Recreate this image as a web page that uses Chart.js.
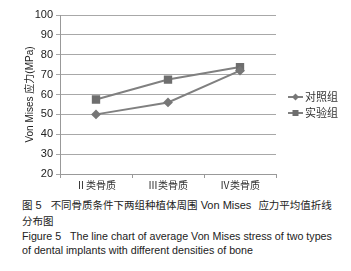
<!DOCTYPE html>
<html>
<head>
<meta charset="utf-8">
<script src="https://cdn.jsdelivr.net/npm/chart.js@4"></script>
<style>
  body { margin: 0; background: #fff; }
  #wrap { position: relative; width: 351px; height: 271px; }
  #c { position: absolute; left: 0; top: 0; }
  .cap { position: absolute; left: 22px; height: 14px; line-height: 14px; color: #222; white-space: pre; }
  .zh { font-family: "Noto Sans CJK SC", "Liberation Sans", sans-serif; font-size: 10.5px; }
  .en { font-family: "Liberation Sans", Arial, sans-serif; font-size: 10.7px; }
  .zh .en { font-size: 11px; }
</style>
</head>
<body>
<div id="wrap">
  <canvas id="c" width="351" height="195"></canvas>
  <div class="cap zh" style="top:198px">图<span class="en" style="margin-left:3px">5</span><span style="margin-left:9px">不同骨质条件下两组种植体周围</span><span class="en" style="margin-left:3px">Von Mises</span><span style="margin-left:7px">应力平均值折线</span></div>
  <div class="cap zh" style="top:214px">分布图</div>
  <div class="cap en" style="top:229px">Figure 5   The line chart of average Von Mises stress of two types</div>
  <div class="cap en" style="top:243px">of dental implants with different densities of bone</div>
</div>
<script>
var categories = ['Ⅱ类骨质', 'Ⅲ类骨质', 'Ⅳ类骨质'];
var controlValues = [50, 56, 72];      // 对照组
var testValues = [57.5, 67.5, 73.8];   // 实验组
var yTicks = [20, 30, 40, 50, 60, 70, 80, 90, 100];

// legend drawn to the right of the plot: line + marker + label
var sideLegend = {
  id: 'sideLegend',
  afterDraw: function (chart) {
    var c = chart.ctx;
    var x0 = chart.chartArea.right + 12;
    var y0 = 97;
    chart.data.datasets.forEach(function (ds, i) {
      var y = y0 + i * 16;
      c.save();
      c.strokeStyle = ds.borderColor;
      c.lineWidth = 2;
      c.beginPath();
      c.moveTo(x0, y);
      c.lineTo(x0 + 15, y);
      c.stroke();
      c.fillStyle = ds.pointBackgroundColor;
      if (ds.pointStyle === 'rect') {
        c.fillRect(x0 + 4.5, y - 3, 6, 6);
      } else {
        c.beginPath();
        c.moveTo(x0 + 7.5, y - 3.5);
        c.lineTo(x0 + 11, y);
        c.lineTo(x0 + 7.5, y + 3.5);
        c.lineTo(x0 + 4, y);
        c.closePath();
        c.fill();
      }
      c.fillStyle = '#333';
      c.font = '11px "Noto Sans CJK SC"';
      c.textBaseline = 'middle';
      c.fillText(ds.label, x0 + 17, y);
      c.restore();
    });
  }
};

var ctx = document.getElementById('c').getContext('2d');
var chart = new Chart(ctx, {
  type: 'line',
  data: {
    labels: categories,
    datasets: [{
      label: '对照组',
      data: controlValues,
      borderColor: '#808080',
      backgroundColor: '#808080',
      pointBackgroundColor: '#777',
      pointBorderColor: '#777',
      pointStyle: 'rectRot',
      pointRadius: 3.5,
      borderWidth: 2,
      fill: false
    }, {
      label: '实验组',
      data: testValues,
      borderColor: '#808080',
      backgroundColor: '#6e6e6e',
      pointBackgroundColor: '#6e6e6e',
      pointBorderColor: '#6e6e6e',
      pointStyle: 'rect',
      pointRadius: 4.5,
      borderWidth: 2,
      fill: false
    }]
  },
  options: {
    responsive: false,
    animation: false,
    layout: { padding: { left: 24, right: 75, top: 15, bottom: 0 } },
    scales: {
      x: {
        offset: true,
        grid: { offset: true, drawOnChartArea: false, drawTicks: true, tickLength: 4, color: '#999' },
        border: { color: '#999' },
        ticks: { color: '#333', font: { family: '"Noto Sans CJK SC"', size: 10 }, padding: 1 },
        afterFit: function (s) { s.height = 21; }
      },
      y: {
        min: 20,
        max: 100,
        afterBuildTicks: function (s) { s.ticks = yTicks.map(function (v) { return { value: v }; }); },
        grid: { color: '#a8a8a8', tickLength: 4 },
        border: { color: '#999' },
        ticks: { color: '#222', font: { family: '"Liberation Sans"', size: 11 }, padding: 3 },
        title: { display: true, text: 'Von Mises 应力(MPa)', color: '#222', font: { family: '"Liberation Sans", "Noto Sans CJK SC"', size: 10 }, padding: 0 },
        afterFit: function (s) { s.width = 36; }
      }
    },
    plugins: {
      legend: { display: false },
      tooltip: { enabled: false }
    }
  },
  plugins: [sideLegend]
});
</script>
</body>
</html>
